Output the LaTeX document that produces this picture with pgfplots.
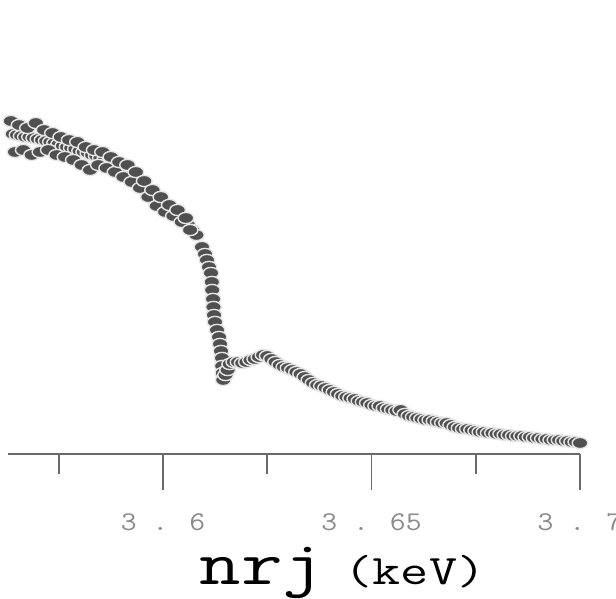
\documentclass[border=0pt]{standalone}
\usepackage{pgfplots}
\pgfplotsset{compat=1.18}
\usepackage{graphicx}
\definecolor{dotfill}{HTML}{505050}
\definecolor{dotedge}{HTML}{E6E6E6}
\definecolor{axisgray}{HTML}{6A6A6A}
\definecolor{labgray}{HTML}{8A8A8A}
\newcommand{\wide}[1]{\scalebox{1.14}[1]{#1}}
\begin{document}
\begin{tikzpicture}
\begin{axis}[
  scale only axis, width=286pt, height=227pt,
  xmin=3.56283, xmax=3.7, ymin=0, ymax=454,
  clip=false,
  axis x line=bottom, axis y line=none,
  x axis line style={-, axisgray, line width=1pt},
  xtick={3.6,3.65,3.7},
  xticklabels={\wide{3 . 6},\wide{3 . 65},\wide{3 . 7}},
  minor xtick={3.575,3.625,3.675},
  tick align=outside,
  major tick length=18pt, minor tick length=10pt,
  tick style={axisgray, line width=0.8pt},
  ytick=\empty,
  xticklabel style={font=\ttfamily\fontsize{13.5}{15}\selectfont, text=labgray, anchor=center, yshift=-16pt},
  xlabel={\scalebox{1.3}[1]{\fontsize{31}{34}\selectfont nrj\hspace{-3pt}{\fontsize{21}{24}\selectfont\ (keV)}}},
  xlabel style={font=\ttfamily, at={(axis description cs:0.585,-0.2885)}, anchor=base},
  dots/.style={only marks, mark=*, mark size=2.8pt,
    mark options={xscale=1.4, fill=dotfill, draw=dotedge, line width=0.7pt}},
]
% scan 1
\addplot[dots] coordinates {
(3.564,320) (3.565,319) (3.566,318) (3.567,317) (3.568,317) (3.569,316)
(3.570,315) (3.571,314) (3.572,313) (3.573,312) (3.574,311) (3.575,310)
(3.576,308) (3.577,307) (3.578,306) (3.579,305) (3.580,303) (3.581,302)
(3.582,301) (3.583,299) (3.584,298) (3.585,296) (3.586,294) (3.587,292)
(3.588,289) (3.589,287) (3.590,285) (3.591,282) (3.592,279) (3.593,276)
(3.594,273) (3.595,269) (3.596,264) (3.597,259) (3.598,254) (3.599,250)
(3.600,247) (3.601,245) (3.602,242) (3.603,239) (3.604,236) (3.605,233)
(3.606,229) (3.607,224) (3.608,219)
(3.60935,207) (3.61007,200) (3.61055,194) (3.61103,187) (3.61151,181)
(3.61170,172) (3.61180,164) (3.61199,155) (3.61210,147) (3.61223,139)
(3.61247,132) (3.61295,124) (3.61343,117) (3.61367,110) (3.61391,103)
(3.61415,96) (3.61420,88) (3.61435,81) (3.61445,74)
(3.6150,79) (3.6155,84) (3.616,90)
(3.617,92) (3.618,92) (3.619,91) (3.620,92) (3.621,94) (3.622,95)
(3.623,97) (3.624,99) (3.625,98) (3.626,95) (3.627,92) (3.628,89)
(3.629,87) (3.630,86) (3.631,84) (3.632,82) (3.633,80) (3.634,77)
(3.635,74) (3.636,71) (3.637,69) (3.638,68) (3.639,66) (3.640,64)
(3.641,62) (3.642,60) (3.643,58) (3.644,57) (3.645,56) (3.646,55)
(3.647,53) (3.648,52) (3.649,51) (3.650,49) (3.651,48) (3.652,48)
(3.653,46) (3.654,45) (3.655,44) (3.656,43) (3.657,44) (3.658,40)
(3.659,38) (3.660,37) (3.661,36) (3.662,35) (3.663,34) (3.664,34)
(3.665,33) (3.666,32) (3.667,31) (3.668,31) (3.669,29) (3.670,27)
(3.671,26) (3.672,25) (3.673,25) (3.674,24) (3.675,23) (3.676,22)
(3.677,22) (3.678,21) (3.679,21) (3.680,20) (3.681,20) (3.682,19)
(3.683,19) (3.684,18) (3.685,18) (3.686,18) (3.687,17) (3.688,17)
(3.689,16) (3.690,16) (3.691,15) (3.692,15) (3.693,14) (3.694,14)
(3.695,14) (3.696,13) (3.697,13) (3.698,12) (3.699,12) (3.700,11)
};
% scan 2 (pre-edge)
\addplot[dots] coordinates {
(3.5635,333) (3.5645,302) (3.5655,329) (3.5665,304) (3.5675,326) (3.5685,299)
(3.5695,331) (3.5705,302) (3.5715,324) (3.5725,304) (3.5735,321) (3.5745,299)
(3.5755,317) (3.5765,297) (3.5775,314) (3.5785,294) (3.5795,312) (3.5805,289)
(3.5815,307) (3.5825,284) (3.5835,304) (3.5845,289) (3.5855,302) (3.5865,286)
(3.5875,297) (3.5885,282) (3.5895,292) (3.5905,277) (3.5915,289) (3.5925,272)
(3.5935,282) (3.5945,266) (3.5955,273) (3.5965,257) (3.5975,264) (3.5985,248)
(3.5995,257) (3.6005,242) (3.6015,249) (3.6025,238) (3.6035,244) (3.6045,232)
(3.6055,236) (3.6065,224)
};
\coordinate (bl) at (axis cs:3.56091,-145);
\coordinate (tr) at (axis cs:3.70863,454);
\end{axis}
\pgfresetboundingbox
\path[use as bounding box] (bl) rectangle (tr);
\end{tikzpicture}
\end{document}
